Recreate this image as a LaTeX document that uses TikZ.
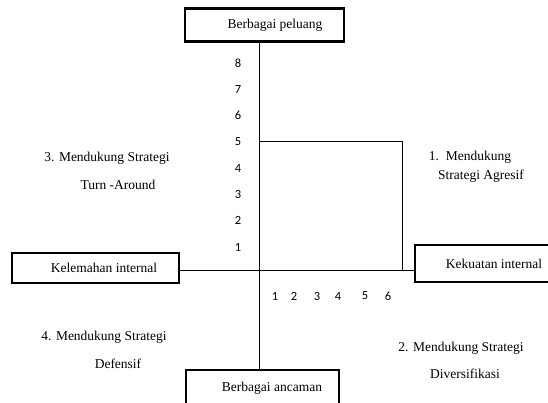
\documentclass[tikz,border=0pt]{standalone}
\usepackage{fontspec}
\setmainfont{Liberation Serif}
\newfontfamily\numfont{Carlito}

\begin{document}
\begin{tikzpicture}[x=1pt, y=-1pt, line width=0.8pt,
		kotak/.style={draw, line width=2.5pt, inner sep=0pt},
		teks/.style={font=\fontsize{13.5}{16}\selectfont, inner sep=0pt},
		angka/.style={font=\numfont\fontsize{12.5}{14}\selectfont, inner sep=0pt}]
		
		\useasboundingbox (0,0) rectangle (548,403);
		\clip (0,0) rectangle (548,403);
		
		% Kotak faktor
		\node[kotak, teks, minimum width=159, minimum height=33] (peluang) at (264.5,25) {\hspace*{21pt}Berbagai peluang};
		\node[kotak, teks, minimum width=153, minimum height=36] (ancaman) at (262.5,388) {\hspace*{19pt}Berbagai ancaman};
		\node[kotak, teks, minimum width=167, minimum height=30] (kelemahan) at (95.5,268) {\hspace*{17pt}Kelemahan internal};
		\node[kotak, teks, minimum width=150, minimum height=37] (kekuatan) at (490,263.5) {\hspace*{8pt}Kekuatan internal};
		
		% Sumbu
		\coordinate (o) at (259,270);
		\draw (peluang.south -| o) -- (ancaman.north -| o);
		\draw (kelemahan.east |- o) -- (kekuatan.west |- o);
		
		% Skala
		\foreach \n in {1,...,8}
			\node[angka] (y\n) at (238,{273.3-26.3*\n}) {\n};
		\foreach \n/\x in {1/275,2/294,3/317,4/338,5/365,6/388}
			\node[angka] (x\n) at (\x,296) {\n};
		
		% Posisi
		\coordinate (q) at (402,141);
		\draw (o |- q) -- (q) -- (q |- o);
		
		% Kuadran
		\node[teks] (k1a) at (470,157) {1.\ \ Mendukung};
		\node[teks] (k1b) at (481,176) {Strategi Agresif};
		\node[teks] (k2a) at (461,348) {2. Mendukung Strategi};
		\node[teks] (k2b) at (465,374) {Diversifikasi};
		\node[teks] (k3a) at (107,158) {3. Mendukung Strategi};
		\node[teks] (k3b) at (118,185) {Turn -Around};
		\node[teks] (k4a) at (104,337) {4. Mendukung Strategi};
		\node[teks] (k4b) at (118,364) {Defensif};
		
	\end{tikzpicture}
\end{document}
